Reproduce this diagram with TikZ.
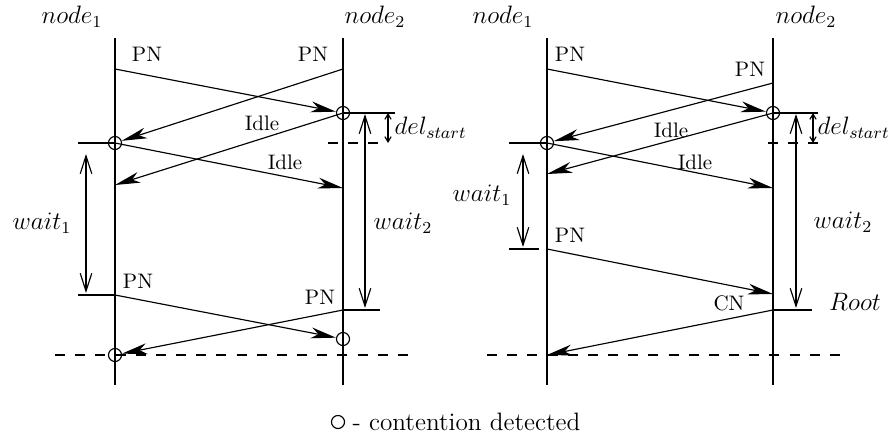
\documentclass[tikz,border=0pt]{standalone}
\usetikzlibrary{arrows.meta}
\begin{document}
\begin{tikzpicture}[x=0.476pt,y=-0.476pt,
  line width=0.55pt,
  msg/.style={-{Stealth[length=12pt,width=5.2pt,inset=3.5pt]}},
  span/.style={{Straight Barb[length=8.5pt,width=5.5pt]}-{Straight Barb[length=8.5pt,width=5.5pt]}},
  smallspan/.style={{Straight Barb[length=2.5pt,width=3pt]}-{Straight Barb[length=2.5pt,width=3pt]}},
  det/.style={circle,draw,minimum size=6.2pt,inner sep=0pt},
  big/.style={font=\large,inner sep=1pt},
  txt/.style={font=\normalsize,inner sep=1pt},
  brk/.style={dash pattern=on 4.8pt off 4.8pt}
]
\useasboundingbox (0,0) rectangle (893,436);

% ---------------- left diagram ----------------
\coordinate (a1t) at (115,38);  \coordinate (a1b) at (115,385);
\coordinate (a2t) at (343,38);  \coordinate (a2b) at (343,385);
\draw (a1t) -- (a1b);
\draw (a2t) -- (a2b);
\node[big] (an1) at (72,17) {$node_1$};
\node[big] (an2) at (375,17) {$node_2$};

\coordinate (a1p) at (115,69);
\coordinate (a2p) at (343,69);
\node[det] (ac2) at (343,113) {};
\node[det] (ac1) at (115,143) {};
\draw[msg] (a1p) -- (ac2);
\draw[msg] (a2p) -- (ac1);
\coordinate (a1i) at (115,185);
\coordinate (a2i) at (343,188);
\draw[msg] (ac2.center) -- (a1i);
\draw[msg] (ac1.center) -- (a2i);
\node[txt] (apn1) at (147,54) {PN};
\node[txt] (apn2) at (313,54) {PN};
\node[txt] (aid1) at (262,123) {Idle};
\node[txt] (aid2) at (285,162) {Idle};

% wait1
\coordinate (aw1t) at (78,143);
\coordinate (aw1b) at (78,295);
\coordinate (a1q) at (115,295);
\draw (aw1t) -- (ac1.center);
\draw (aw1b) -- (a1q);
\coordinate (aw1s) at (86,154);
\coordinate (aw1e) at (86,293);
\draw[span] (aw1s) -- (aw1e);
\node[big] (awl1) at (42,223) {$wait_1$};

% node2 side
\coordinate (ad2e) at (395,113);
\draw (ac2.center) -- (ad2e);
\coordinate (ads) at (388,113);
\coordinate (ade) at (388,143);
\draw[smallspan] (ads) -- (ade);
\coordinate (adl) at (328,143);
\coordinate (adr) at (378,143);
\draw[brk] (adl) -- (adr);
\node[big,anchor=west] (adel) at (392,128) {$del_{start}$};

\coordinate (aw2s) at (365,114);
\coordinate (aw2e) at (365,308);
\draw[span] (aw2s) -- (aw2e);
\coordinate (a2q) at (343,310);
\coordinate (aw2b) at (380,310);
\draw (a2q) -- (aw2b);
\node[big] (awl2) at (403,223) {$wait_2$};

% bottom messages
\node[det] (ac3) at (343,339) {};
\node[det] (ac4) at (115,355) {};
\draw[msg] (a1q) -- (ac3);
\draw[msg] (a2q) -- (ac4);
\node[txt] (apn3) at (138,281) {PN};
\node[txt] (apn4) at (320,297) {PN};
\coordinate (abl) at (55,355);
\coordinate (abr) at (408,355);
\draw[brk] (abl) -- (abr);

% ---------------- right diagram ----------------
\coordinate (b1t) at (547,38);  \coordinate (b1b) at (547,385);
\coordinate (b2t) at (773,38);  \coordinate (b2b) at (773,385);
\draw (b1t) -- (b1b);
\draw (b2t) -- (b2b);
\node[big] (bn1) at (503,17) {$node_1$};
\node[big] (bn2) at (806,17) {$node_2$};

\coordinate (b1p) at (547,69);
\coordinate (b2p) at (773,83);
\node[det] (bc2) at (773,113) {};
\node[det] (bc1) at (547,143) {};
\draw[msg] (b1p) -- (bc2);
\draw[msg] (b2p) -- (bc1);
\coordinate (b1i) at (547,174);
\coordinate (b2i) at (773,188);
\draw[msg] (bc2.center) -- (b1i);
\draw[msg] (bc1.center) -- (b2i);
\node[txt] (bpn1) at (570,54) {PN};
\node[txt] (bpn2) at (750,69) {PN};
\node[txt] (bid1) at (671,130) {Idle};
\node[txt] (bid2) at (695,162) {Idle};

% wait1
\coordinate (bw1t) at (509,143);
\draw (bw1t) -- (bc1.center);
\coordinate (bw1b) at (509,249);
\coordinate (bw1c) at (539,249);
\draw (bw1b) -- (bw1c);
\coordinate (bw1s) at (523,154);
\coordinate (bw1e) at (523,247);
\draw[span] (bw1s) -- (bw1e);
\node[big] (bwl1) at (482,195) {$wait_1$};

% node2 side
\coordinate (bd2e) at (818,113);
\draw (bc2.center) -- (bd2e);
\coordinate (bds) at (813,113);
\coordinate (bde) at (813,143);
\draw[smallspan] (bds) -- (bde);
\coordinate (bdl) at (768,143);
\coordinate (bdr) at (818,143);
\draw[brk] (bdl) -- (bdr);
\node[big,anchor=west] (bdel) at (815,128) {$del_{start}$};

\coordinate (bw2s) at (796,114);
\coordinate (bw2e) at (796,308);
\draw[span] (bw2s) -- (bw2e);
\coordinate (b2q) at (773,310);
\coordinate (bw2b) at (812,310);
\draw (b2q) -- (bw2b);
\node[big] (bwl2) at (843,222) {$wait_2$};
\node[big] (broot) at (855,302) {$Root$};

% bottom messages
\coordinate (b1q) at (547,249);
\coordinate (b2r) at (773,294);
\draw[msg] (b1q) -- (b2r);
\coordinate (b1r) at (547,355);
\draw[msg] (b2q) -- (b1r);
\node[txt] (bpn3) at (570,235) {PN};
\node[txt] (bcn) at (729,303) {CN};
\coordinate (bbl) at (487,355);
\coordinate (bbr) at (840,355);
\draw[brk] (bbl) -- (bbr);

% ---------------- legend ----------------
\node[det] (lc) at (338,422) {};
\node[big,anchor=west] (lt) at (350,422) {- contention detected};
\end{tikzpicture}
\end{document}
